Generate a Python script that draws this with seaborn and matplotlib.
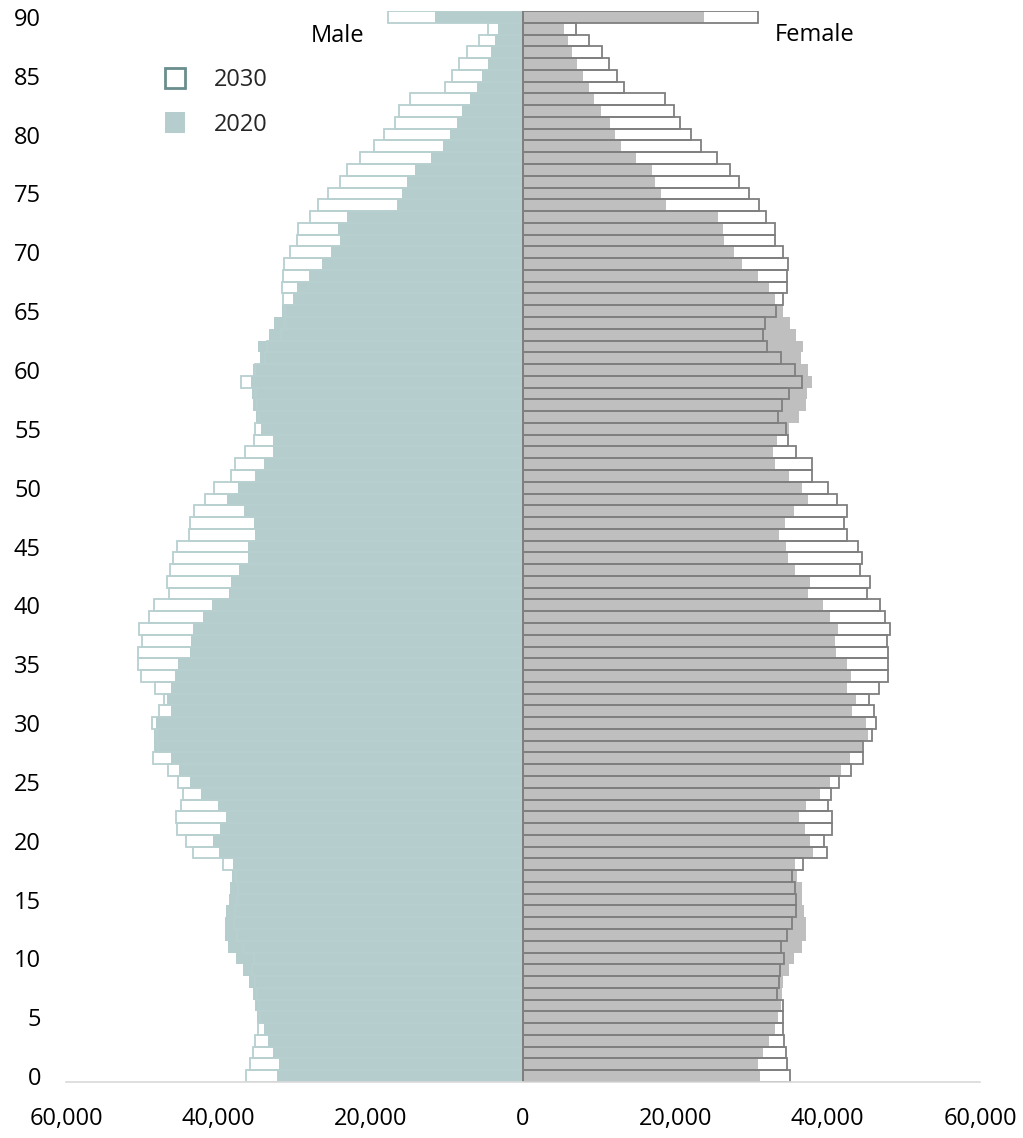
import matplotlib
matplotlib.use("Agg")
import matplotlib.pyplot as plt
import seaborn as sns
import numpy as np
import pandas as pd
from matplotlib.patches import Patch
from matplotlib.ticker import FuncFormatter

ages = list(range(0, 91))

male_2020 = [32280, 31980, 32770, 33520, 34040, 34910, 35140, 35400, 35930, 36810,
             37680, 38730, 39090, 39120, 38990, 38650, 38470, 38200, 38030, 39870,
             40660, 39780, 38990, 40100, 42240, 43730, 45140, 46230, 48390, 48430,
             48210, 46150, 46680, 46190, 45710, 45360, 43730, 43600, 43390, 41980,
             40890, 38560, 38340, 37240, 36060, 36150, 35180, 35270, 36590, 38860,
             37470, 35140, 33950, 32860, 32860, 34390, 35050, 35400, 35620, 35700,
             35490, 34480, 34740, 33300, 32640, 31620, 30230, 29700, 28160, 26410,
             25270, 23990, 24310, 23070, 16490, 15830, 15170, 14210, 12020, 10490,
             9610, 8730, 7990, 6970, 6100, 5440, 4650, 4210, 3690, 3250,
             11580]

male_2030 = [36360, 35830, 35490, 35140, 34830, 34500, 34700, 34900, 35200, 35600,
             35300, 36800, 37500, 37900, 37800, 37600, 37400, 37700, 39350, 43390,
             44180, 45440, 45570, 44910, 44610, 45360, 46550, 48560, 47900, 48100,
             48650, 47770, 47070, 48340, 50100, 50530, 50530, 49970, 50400, 49130,
             48430, 46450, 46760, 46320, 45890, 45440, 43910, 43690, 43260, 41810,
             40620, 38340, 37860, 36540, 35360, 35230, 34600, 34900, 35100, 37020,
             35200, 33900, 33600, 31800, 31200, 31300, 31540, 31620, 31540, 31320,
             30620, 29650, 29520, 27940, 26940, 25620, 24080, 23160, 21450, 19610,
             18200, 16760, 16320, 14870, 10260, 9340, 8380, 7410, 5830, 4650,
             17730]

female_2020 = [31060, 30790, 31490, 32290, 33030, 33520, 33820, 33950, 34130, 34960,
               35580, 36680, 37110, 37150, 36890, 36580, 36580, 35930, 35660, 38030,
               37680, 37020, 36230, 37200, 38990, 40310, 41720, 42940, 44570, 45360,
               44970, 43260, 43730, 42510, 43030, 42510, 41150, 40930, 41410, 40360,
               39390, 37410, 37640, 35660, 34830, 34570, 33560, 34390, 35580, 37470,
               36580, 34920, 33120, 32860, 33290, 34960, 36230, 37110, 37330, 37900,
               37410, 36450, 36760, 35800, 35050, 34130, 33030, 32290, 30790, 28730,
               27730, 26410, 26280, 25570, 18730, 18120, 17370, 16890, 14830, 12900,
               12110, 11360, 10180, 9260, 8600, 7900, 7060, 6490, 5970, 5400,
               23820]

female_2030 = [35050, 34700, 34480, 34260, 34080, 34080, 34080, 33290, 33650, 33690,
               34310, 33860, 34610, 35310, 35840, 35890, 35660, 35360, 36760, 39870,
               39570, 40530, 40620, 40010, 40400, 41450, 43030, 44650, 44650, 45760,
               46320, 46020, 45440, 46680, 47860, 47950, 47950, 47770, 48170, 47550,
               46890, 45100, 45530, 44260, 44480, 44000, 42510, 42150, 42510, 41280,
               40100, 37900, 37990, 35890, 34830, 34520, 33470, 34040, 34960, 36630,
               35700, 33860, 32020, 31540, 31760, 33250, 34080, 34700, 34700, 34830,
               34180, 33070, 33070, 31940, 30930, 29700, 28340, 27240, 25530, 23380,
               22110, 20620, 19830, 18690, 13290, 12330, 11270, 10350, 8640, 6970,
               30880]

x_ticks = [-60000, -40000, -20000, 0, 20000, 40000, 60000]
y_ticks = list(range(0, 91, 5))

MALE_FILL = "#b5cdcd"
MALE_EDGE = "#b8d0d0"
FEM_FILL = "#bfbfbf"
FEM_EDGE = "#7f7f7f"
LEG_EDGE = "#6a8e8e"

df = pd.DataFrame({
    "age": ages,
    "m20": [-v for v in male_2020],
    "m30": [-v for v in male_2030],
    "f20": female_2020,
    "f30": female_2030,
})

sns.set_theme(style="white")
plt.rcParams["font.family"] = ["Open Sans", "DejaVu Sans"]

fig = plt.figure(figsize=(10.23, 11.38), dpi=100)
ax = fig.add_axes([66 / 1023, 1 - 1082 / 1138, (980 - 66) / 1023, (1082 - 11) / 1138])


def layer(col, face, edge, lw, z):
    n0 = len(ax.patches)
    sns.barplot(data=df, x=col, y="age", orient="y", native_scale=True,
                width=1.0, errorbar=None, saturation=1, color=face, ax=ax)
    for p in ax.patches[n0:]:
        p.set_facecolor(face)
        p.set_edgecolor(edge)
        p.set_linewidth(lw)
        p.set_zorder(z)


# 2030 white background (under), 2020 fill, 2030 outline (over)
layer("m30", "white", "none", 0, 1)
layer("f30", "white", "none", 0, 1)
layer("m20", MALE_FILL, "none", 0, 2)
layer("f20", FEM_FILL, "none", 0, 2)
layer("m30", "none", MALE_EDGE, 1.3, 3)
layer("f30", "none", FEM_EDGE, 1.3, 3)

ax.axvline(0, color=FEM_EDGE, lw=1.4, zorder=4)

ax.set_xlim(-60000, 60000)
ax.set_ylim(-0.5, 90.5)
ax.set_xticks(x_ticks)
ax.set_yticks(y_ticks)
ax.xaxis.set_major_formatter(FuncFormatter(lambda v, p: f"{abs(int(v)):,}"))
ax.set_yticklabels([str(t) for t in y_ticks])
ax.tick_params(axis="x", length=0, pad=18, labelsize=17, labelcolor="black")
ax.tick_params(axis="y", length=0, pad=18, labelsize=17, labelcolor="black")
ax.set_xlabel("")
ax.set_ylabel("")
for s in ["top", "right", "left"]:
    ax.spines[s].set_visible(False)
ax.spines["bottom"].set_color("#d9d9d9")
ax.spines["bottom"].set_linewidth(1.2)
ax.spines["bottom"].set_zorder(5)

ax.text(-24300, 88.35, "Male", ha="center", va="center", fontsize=17, color="black")
ax.text(38300, 88.45, "Female", ha="center", va="center", fontsize=17, color="black")

handles = [Patch(facecolor="white", edgecolor=LEG_EDGE, linewidth=2, label="2030"),
           Patch(facecolor=MALE_FILL, edgecolor="none", label="2020")]
fig.legend(handles=handles, loc="upper left", bbox_to_anchor=(165 / 1023, 1 - 68 / 1138),
           frameon=False, fontsize=17, handlelength=0.85, handleheight=0.95,
           handletextpad=1.2, labelspacing=0.85, borderpad=0, borderaxespad=0)

fig.savefig("out.png", dpi=100, facecolor="white")
